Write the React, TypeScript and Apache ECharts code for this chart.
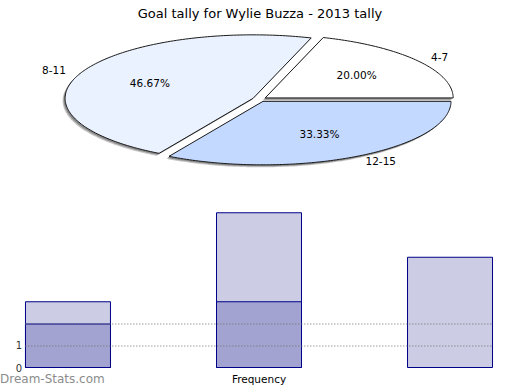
import React, { useEffect, useRef } from 'react';
import * as echarts from 'echarts';

const TITLE = 'Goal tally for Wylie Buzza - 2013 tally';
const pieCategories = ['4-7', '8-11', '12-15'];
const pieValues = [3, 7, 5];
const pieColors = ['#FFFFFF', '#EAF1FF', '#C4D9FF'];
const barCategories = ['4-7', '8-11', '12-15'];
const barLightValues = [3, 7, 5];
const barDarkValues = [2, 3, 0];
const yTickLabels = ['0', '1'];
const xAxisName = 'Frequency';
const watermark = 'Dream-Stats.com';

const FONT = '"DejaVu Sans", sans-serif';
const PIE = { cx: 259.5, cy: 99.3, a: 188, b: 63.5, explode: 7, inner: 113, outer: 205 };

function sliceGeom(i: number) {
  const total = pieValues.reduce((s, v) => s + v, 0);
  let start = 0;
  for (let j = 0; j < i; j++) start += (pieValues[j] / total) * 360;
  const end = start + (pieValues[i] / total) * 360;
  const k = PIE.b / PIE.a;
  const mid = (((start + end) / 2) * Math.PI) / 180;
  const ax = PIE.cx + PIE.explode * Math.cos(mid);
  const ay = PIE.cy - PIE.explode * k * Math.sin(mid);
  const pts: number[][] = [[ax, ay]];
  const steps = Math.max(8, Math.ceil(end - start));
  for (let s = 0; s <= steps; s++) {
    const t = ((start + ((end - start) * s) / steps) * Math.PI) / 180;
    pts.push([ax + PIE.a * Math.cos(t), ay - PIE.b * Math.sin(t)]);
  }
  return { pts, ax, ay, mid, k, pct: (pieValues[i] / total) * 100 };
}

const SHADOWS = [
  { dx: -2.5, dy: 2.5, fill: '#c4c4c4' },
  { dx: -1.5, dy: 1.5, fill: '#8a8a8a' },
];

export default function App() {
  const ref = useRef<HTMLDivElement>(null);
  useEffect(() => {
    document.body.style.margin = '0';
    const chart = echarts.init(ref.current!, null, { renderer: 'svg' });
    const option: any = {
      animation: false,
      backgroundColor: '#ffffff',
      title: {
        text: TITLE,
        left: 'center',
        top: 2,
        textStyle: { fontFamily: FONT, fontSize: 13, fontWeight: 'normal', color: '#000' },
      },
      graphic: [
        {
          type: 'text',
          left: 0,
          top: 373,
          style: { text: watermark, fill: '#8c8c8c', fontFamily: FONT, fontSize: 12 },
        },
      ],
      grid: { left: 25, right: 27, top: 190, bottom: 22 },
      xAxis: {
        type: 'value',
        min: -0.225,
        max: barCategories.length - 1 + 0.225,
        axisLine: { show: false },
        axisTick: { show: false },
        axisLabel: { show: false },
        splitLine: { show: false },
        name: xAxisName,
        nameLocation: 'middle',
        nameGap: 5,
        nameTextStyle: { fontFamily: FONT, fontSize: 10.5, color: '#000', verticalAlign: 'top' },
      },
      yAxis: {
        type: 'value',
        min: 0,
        max: 8,
        interval: 1,
        axisLine: { show: false },
        axisTick: { show: false },
        splitLine: { show: false },
        axisLabel: {
          margin: 3,
          fontFamily: FONT,
          fontSize: 10,
          color: '#333',
          formatter: (v: number) => yTickLabels[v] ?? '',
        },
      },
      series: [
        ...SHADOWS.map((sh, si) => ({
          type: 'custom',
          coordinateSystem: 'none',
          data: pieValues,
          z: 1 + si * 0.1,
          silent: true,
          renderItem: (params: any) => {
            const g = sliceGeom(params.dataIndex);
            return {
              type: 'polygon',
              shape: { points: g.pts.map((p) => [p[0] + sh.dx, p[1] + sh.dy]) },
              style: { fill: sh.fill, stroke: 'none' },
            };
          },
        })),
        {
          type: 'custom',
          coordinateSystem: 'none',
          data: pieValues,
          z: 2,
          silent: true,
          renderItem: (params: any) => {
            const i = params.dataIndex;
            const g = sliceGeom(i);
            const c = Math.cos(g.mid);
            const s = Math.sin(g.mid);
            return {
              type: 'group',
              children: [
                {
                  type: 'polygon',
                  shape: { points: g.pts },
                  style: { fill: pieColors[i], stroke: '#1a1a1a', lineWidth: 1 },
                },
                {
                  type: 'text',
                  x: g.ax + PIE.inner * c,
                  y: g.ay - PIE.inner * g.k * s,
                  style: {
                    text: g.pct.toFixed(2) + '%',
                    fill: '#000',
                    fontFamily: FONT,
                    fontSize: 10.5,
                    align: 'center',
                    verticalAlign: 'middle',
                  },
                },
                {
                  type: 'text',
                  x: g.ax + PIE.outer * c,
                  y: g.ay - PIE.outer * g.k * s,
                  style: {
                    text: pieCategories[i],
                    fill: '#000',
                    fontFamily: FONT,
                    fontSize: 10.5,
                    align: c >= 0 ? 'left' : 'right',
                    verticalAlign: 'middle',
                  },
                },
              ],
            };
          },
        },
        {
          type: 'bar',
          name: 'light',
          data: barLightValues.map((v, i) => [i, v]),
          barWidth: 86,
          itemStyle: { color: '#CCCCE4', borderColor: '#000088', borderWidth: 1 },
          z: 3,
        },
        {
          type: 'bar',
          name: 'dark',
          data: barDarkValues.map((v, i) => [i, v === 0 ? '-' : v]),
          barWidth: 86,
          barGap: '-100%',
          itemStyle: { color: '#A3A3D1', borderColor: '#000088', borderWidth: 1 },
          z: 4,
          markLine: {
            silent: true,
            symbol: 'none',
            label: { show: false },
            lineStyle: { type: 'dotted', color: 'rgba(110,110,110,0.45)', width: 1.5 },
            data: [{ yAxis: 1 }, { yAxis: 2 }],
          },
        },
      ],
    };
    chart.setOption(option);
    return () => chart.dispose();
  }, []);
  return <div ref={ref} style={{ width: 520, height: 390 }} />;
}
